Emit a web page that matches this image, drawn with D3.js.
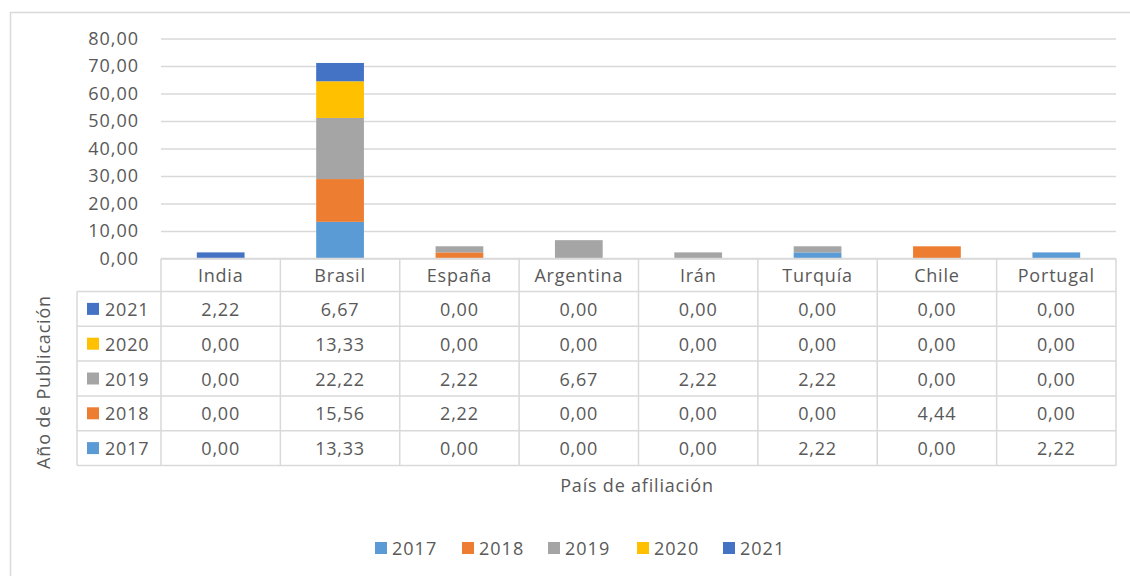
<!DOCTYPE html>
<html lang="es">

<head>
  <meta charset="utf-8">
  <title>País de afiliación</title>
  <script src="https://cdn.jsdelivr.net/npm/d3@7"></script>
  <style>
    body { margin: 0; background: #fff; }
    text { font-family: "Open Sans", sans-serif; fill: #595959; }
  </style>
</head>

<body>
  <script>
    // data
    var countries = ["India", "Brasil", "España", "Argentina", "Irán", "Turquía", "Chile", "Portugal"];
    var years = ["2017", "2018", "2019", "2020", "2021"];
    var v2017 = [0, 13.33, 0, 0, 0, 2.22, 0, 2.22];
    var v2018 = [0, 15.56, 2.22, 0, 0, 0, 4.44, 0];
    var v2019 = [0, 22.22, 2.22, 6.67, 2.22, 2.22, 0, 0];
    var v2020 = [0, 13.33, 0, 0, 0, 0, 0, 0];
    var v2021 = [2.22, 6.67, 0, 0, 0, 0, 0, 0];
    var yTicks = [0, 10, 20, 30, 40, 50, 60, 70, 80];

    var series = { "2017": v2017, "2018": v2018, "2019": v2019, "2020": v2020, "2021": v2021 };
    var colors = { "2017": "#5B9BD5", "2018": "#ED7D31", "2019": "#A5A5A5", "2020": "#FFC000", "2021": "#4472C4" };
    var lineColor = "#D9D9D9";

    var w = 1130, h = 576;
    var plotLeft = 161, plotRight = 1116, plotTop = 38.5, plotBottom = 258.5;
    var rowH = 34.8, headH = 33;

    var rows = countries.map(function (c, i) {
      var r = { country: c };
      years.forEach(function (y) { r[y] = series[y][i]; });
      return r;
    });

    var fmt = function (d) { return d3.format(".2f")(d).replace(".", ","); };

    var svg = d3.select("body").append("svg")
                .attr("width", w)
                .attr("height", h);

    // chart frame
    svg.append("rect")
       .attr("x", 10.5).attr("y", 12.5)
       .attr("width", 1140).attr("height", 600)
       .attr("fill", "none")
       .attr("stroke", lineColor)
       .attr("stroke-width", 1.5);

    var x = d3.scaleBand().domain(countries).range([plotLeft, plotRight]);
    var xBar = d3.scaleBand().domain(countries).range([plotLeft, plotRight])
                 .paddingInner(0.6).paddingOuter(0.3);
    var y = d3.scaleLinear().domain([0, 80]).range([plotBottom, plotTop]);

    // gridlines
    svg.append("g")
       .attr("class", "grid")
       .attr("transform", "translate(" + plotLeft + ",0)")
       .call(d3.axisLeft(y).tickValues(yTicks).tickSize(-(plotRight - plotLeft)).tickFormat(""))
       .call(function (g) {
         g.select(".domain").remove();
         g.selectAll("line").attr("stroke", lineColor).attr("stroke-width", 1.5);
       });

    // y axis labels
    svg.append("g")
       .attr("transform", "translate(" + (plotLeft - 19) + ",0)")
       .call(d3.axisLeft(y).tickValues(yTicks).tickSize(0).tickFormat(fmt))
       .call(function (g) {
         g.select(".domain").remove();
         g.selectAll("text")
          .attr("fill", "#595959")
          .style("font-family", "'Open Sans', sans-serif")
          .style("font-size", "18px")
          .style("letter-spacing", "1px");
       });

    // stacked bars
    var stack = d3.stack().keys(years)(rows);
    svg.append("g").selectAll("g")
       .data(stack)
       .enter()
         .append("g")
         .attr("fill", function (d) { return colors[d.key]; })
       .selectAll("rect")
       .data(function (d) { return d; })
       .enter()
         .append("rect")
         .attr("x", function (d) { return xBar(d.data.country); })
         .attr("width", xBar.bandwidth())
         .attr("y", function (d) { return y(d[1]); })
         .attr("height", function (d) { return y(d[0]) - y(d[1]); });

    // data table
    var tableLeft = 77;
    var tableTop = plotBottom;
    var table = svg.append("g").attr("class", "table");
    var bodyTop = tableTop + headH;
    var tableBottom = bodyTop + rowH * years.length;
    var lineAttrs = function (sel) {
      sel.attr("stroke", lineColor).attr("stroke-width", 1.5);
    };

    // horizontal lines
    table.append("line").attr("x1", plotLeft).attr("x2", plotRight)
         .attr("y1", tableTop).attr("y2", tableTop).call(lineAttrs);
    d3.range(years.length + 1).forEach(function (i) {
      table.append("line").attr("x1", tableLeft).attr("x2", plotRight)
           .attr("y1", bodyTop + i * rowH).attr("y2", bodyTop + i * rowH).call(lineAttrs);
    });
    // vertical lines
    table.append("line").attr("x1", tableLeft).attr("x2", tableLeft)
         .attr("y1", bodyTop).attr("y2", tableBottom).call(lineAttrs);
    countries.concat([null]).forEach(function (c) {
      var xx = c === null ? plotRight : x(c);
      table.append("line").attr("x1", xx).attr("x2", xx)
           .attr("y1", tableTop).attr("y2", tableBottom).call(lineAttrs);
    });

    var cellText = function (sel) {
      sel.attr("text-anchor", "middle")
         .attr("dominant-baseline", "central")
         .style("font-size", "18px")
         .style("letter-spacing", "0.8px");
    };

    table.selectAll(".head")
         .data(countries)
         .enter()
           .append("text")
           .attr("class", "head")
           .attr("x", function (d) { return x(d) + x.bandwidth() / 2; })
           .attr("y", tableTop + headH / 2)
           .text(function (d) { return d; })
           .call(cellText);

    var tableYears = years.slice().reverse();
    tableYears.forEach(function (yr, i) {
      var cy = bodyTop + i * rowH + rowH / 2;
      table.append("rect")
           .attr("x", 87).attr("y", cy - 6)
           .attr("width", 12).attr("height", 12)
           .attr("fill", colors[yr]);
      table.append("text")
           .attr("x", 105).attr("y", cy)
           .attr("dominant-baseline", "central")
           .style("font-size", "18px")
           .style("letter-spacing", "0.8px")
           .text(yr);
      table.selectAll(".v" + yr)
           .data(series[yr])
           .enter()
             .append("text")
             .attr("x", function (d, j) { return x(countries[j]) + x.bandwidth() / 2; })
             .attr("y", cy)
             .text(function (d) { return fmt(d); })
             .call(cellText);
    });

    // axis titles
    svg.append("text")
       .attr("transform", "translate(50,382) rotate(-90)")
       .attr("text-anchor", "middle")
       .style("font-size", "18px")
       .style("letter-spacing", "0.8px")
       .text("Año de Publicación");
    svg.append("text")
       .attr("x", 637).attr("y", 492)
       .attr("text-anchor", "middle")
       .style("font-size", "18px")
       .style("letter-spacing", "0.8px")
       .text("País de afiliación");

    // legend
    var legendX = [375, 462, 548, 637, 723];
    var legend = svg.append("g").selectAll("g")
                    .data(years)
                    .enter()
                      .append("g")
                      .attr("transform", function (d, i) { return "translate(" + legendX[i] + ",548)"; });
    legend.append("rect")
          .attr("x", 0).attr("y", -6)
          .attr("width", 12).attr("height", 12)
          .attr("fill", function (d) { return colors[d]; });
    legend.append("text")
          .attr("x", 17).attr("y", 0)
          .attr("dominant-baseline", "central")
          .style("font-size", "18px")
          .style("letter-spacing", "1px")
          .text(function (d) { return d; });
  </script>
</body>

</html>
